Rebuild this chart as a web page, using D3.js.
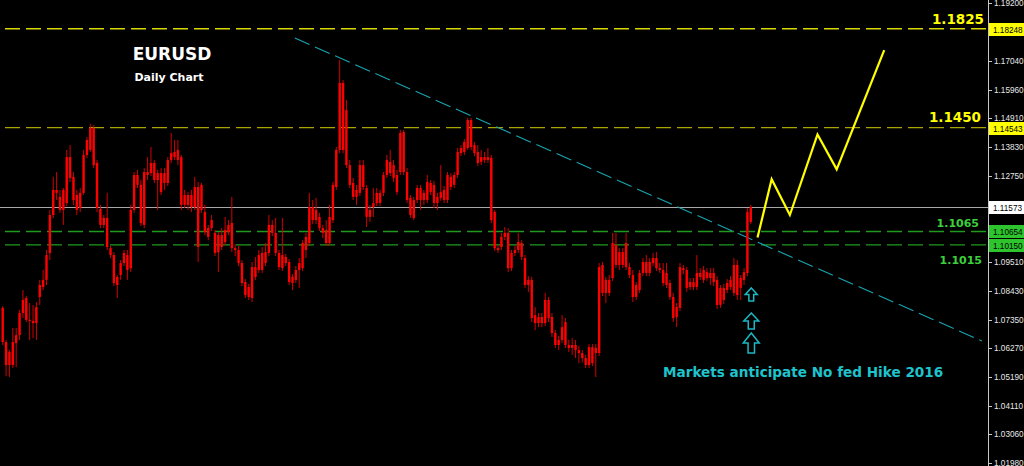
<!DOCTYPE html>
<html>
<head>
<meta charset="utf-8">
<title>EURUSD Daily Chart</title>
<script src="https://d3js.org/d3.v7.min.js"></script>
<style>
  html, body { margin: 0; padding: 0; background: #000; }
  svg { display: block; }
</style>
</head>
<body>
<svg width="1024" height="466" id="mainSvg"></svg>
<script>
// daily bars: [open, high, low, close]
const ohlc = [
  [1.0779,1.0786,1.0640,1.0651],[1.0651,1.0659,1.0524,1.0565],[1.0565,1.0621,1.0520,1.0614],[1.0565,1.0704,1.0554,1.0651],
  [1.0647,1.0704,1.0557,1.0677],[1.0677,1.0771,1.0659,1.0760],[1.0760,1.0846,1.0741,1.0809],[1.0816,1.0824,1.0726,1.0734],
  [1.0730,1.0797,1.0659,1.0734],[1.0730,1.0790,1.0666,1.0722],[1.0722,1.0801,1.0659,1.0782],[1.0820,1.0884,1.0790,1.0865],
  [1.0857,1.0921,1.0846,1.0884],[1.0884,1.0996,1.0865,1.0977],[1.0985,1.1146,1.0958,1.1127],[1.1127,1.1270,1.1116,1.1221],
  [1.1221,1.1288,1.1183,1.1210],[1.1195,1.1221,1.1135,1.1146],[1.1146,1.1228,1.1090,1.1221],[1.1172,1.1371,1.1161,1.1344],
  [1.1344,1.1389,1.1251,1.1266],[1.1270,1.1288,1.1165,1.1183],[1.1202,1.1221,1.1127,1.1146],[1.1153,1.1228,1.1138,1.1210],
  [1.1210,1.1371,1.1202,1.1352],[1.1352,1.1419,1.1341,1.1408],[1.1371,1.1468,1.1363,1.1453],[1.1453,1.1464,1.1303,1.1314],
  [1.1322,1.1333,1.1138,1.1153],[1.1150,1.1165,1.1078,1.1090],[1.1090,1.1127,1.1078,1.1116],[1.1116,1.1210,1.0996,1.1007],
  [1.1003,1.1011,1.0966,1.0977],[1.0977,1.0988,1.0861,1.0872],[1.0865,1.0902,1.0816,1.0895],[1.0902,1.0958,1.0884,1.0947],
  [1.0947,1.0996,1.0936,1.0985],[1.0977,1.0996,1.0884,1.0921],[1.0928,1.1165,1.0913,1.1146],[1.1146,1.1288,1.1135,1.1277],
  [1.1277,1.1296,1.1228,1.1240],[1.1240,1.1258,1.1086,1.1097],[1.1090,1.1303,1.1078,1.1288],[1.1288,1.1344,1.1258,1.1277],
  [1.1284,1.1382,1.1273,1.1322],[1.1322,1.1333,1.1247,1.1258],[1.1258,1.1296,1.1146,1.1284],[1.1284,1.1303,1.1202,1.1213],
  [1.1247,1.1303,1.1221,1.1284],[1.1247,1.1344,1.1236,1.1333],[1.1333,1.1434,1.1322,1.1359],[1.1344,1.1408,1.1333,1.1363],
  [1.1371,1.1408,1.1314,1.1333],[1.1344,1.1352,1.1146,1.1165],[1.1165,1.1221,1.1153,1.1202],[1.1202,1.1213,1.1146,1.1165],
  [1.1157,1.1221,1.1138,1.1202],[1.1157,1.1270,1.1146,1.1232],[1.1232,1.1251,1.0951,1.1007],[1.1240,1.1247,1.1135,1.1146],
  [1.1138,1.1165,1.1052,1.1063],[1.1078,1.1090,1.1033,1.1045],[1.1078,1.1127,1.1067,1.1108],[1.1060,1.1071,1.0973,1.0985],
  [1.0988,1.1063,1.0913,1.1052],[1.1052,1.1078,1.0996,1.1007],[1.1026,1.1120,1.1015,1.1071],[1.1063,1.1108,1.1052,1.1090],
  [1.1097,1.1195,1.0988,1.1003],[1.1003,1.1018,1.0973,1.0996],[1.0996,1.1011,1.0936,1.0947],[1.0947,1.0958,1.0861,1.0872],
  [1.0876,1.0887,1.0816,1.0827],[1.0820,1.0869,1.0809,1.0857],[1.0816,1.0951,1.0801,1.0932],[1.0932,1.0970,1.0884,1.0895],
  [1.0921,1.0996,1.0910,1.0977],[1.0985,1.1007,1.0910,1.0921],[1.0947,1.1022,1.0936,1.0988],[1.0985,1.1127,1.0973,1.1090],
  [1.1090,1.1108,1.1048,1.1060],[1.1060,1.1116,1.0973,1.0985],[1.0985,1.0996,1.0921,1.0932],[1.0928,1.1116,1.0917,1.0977],
  [1.0970,1.0981,1.0936,1.0947],[1.0951,1.0962,1.0865,1.0876],[1.0872,1.0906,1.0846,1.0895],[1.0884,1.0936,1.0872,1.0921],
  [1.0921,1.0966,1.0854,1.0947],[1.0928,1.1033,1.0917,1.1022],[1.0996,1.1060,1.0966,1.1045],[1.1022,1.1210,1.1011,1.1157],
  [1.1157,1.1183,1.1093,1.1108],[1.1108,1.1191,1.1093,1.1146],[1.1120,1.1135,1.1067,1.1078],[1.1078,1.1090,1.1041,1.1060],
  [1.1071,1.1108,1.1011,1.1022],[1.1022,1.1165,1.1011,1.1120],[1.1108,1.1251,1.1097,1.1240],[1.1232,1.1382,1.1221,1.1371],
  [1.1371,1.1708,1.1359,1.1622],[1.1622,1.1633,1.1359,1.1371],[1.1520,1.1558,1.1303,1.1314],[1.1314,1.1333,1.1228,1.1240],
  [1.1247,1.1266,1.1183,1.1195],[1.1195,1.1240,1.1165,1.1221],[1.1210,1.1333,1.1198,1.1314],[1.1314,1.1333,1.1221,1.1232],
  [1.1228,1.1240,1.1082,1.1120],[1.1120,1.1165,1.1101,1.1146],[1.1157,1.1228,1.1120,1.1172],[1.1172,1.1228,1.1161,1.1210],
  [1.1210,1.1221,1.1161,1.1172],[1.1210,1.1288,1.1198,1.1277],[1.1277,1.1352,1.1266,1.1333],[1.1326,1.1371,1.1273,1.1284],
  [1.1314,1.1333,1.1251,1.1266],[1.1277,1.1296,1.1202,1.1213],[1.1288,1.1446,1.1277,1.1434],[1.1438,1.1446,1.1277,1.1288],
  [1.1288,1.1303,1.1172,1.1183],[1.1191,1.1202,1.1116,1.1127],[1.1116,1.1195,1.1108,1.1183],[1.1183,1.1240,1.1172,1.1228],
  [1.1228,1.1240,1.1146,1.1183],[1.1183,1.1221,1.1165,1.1210],[1.1183,1.1277,1.1172,1.1251],[1.1247,1.1258,1.1202,1.1213],
  [1.1240,1.1255,1.1153,1.1172],[1.1172,1.1210,1.1146,1.1195],[1.1191,1.1314,1.1180,1.1213],[1.1221,1.1236,1.1172,1.1183],
  [1.1183,1.1288,1.1172,1.1277],[1.1270,1.1284,1.1221,1.1232],[1.1240,1.1288,1.1228,1.1277],[1.1277,1.1378,1.1266,1.1363],
  [1.1359,1.1389,1.1348,1.1378],[1.1363,1.1412,1.1352,1.1401],[1.1378,1.1491,1.1371,1.1483],[1.1483,1.1491,1.1371,1.1382],
  [1.1389,1.1401,1.1348,1.1359],[1.1363,1.1389,1.1311,1.1322],[1.1326,1.1371,1.1314,1.1344],[1.1344,1.1363,1.1322,1.1333],
  [1.1333,1.1378,1.1322,1.1344],[1.1341,1.1352,1.1097,1.1108],[1.1138,1.1146,1.0992,1.1003],[1.1003,1.1015,1.0985,1.0996],
  [1.1007,1.1060,1.0996,1.1045],[1.1045,1.1082,1.1033,1.1060],[1.1060,1.1078,1.0913,1.0928],[1.0928,1.0996,1.0917,1.0985],
  [1.0985,1.1011,1.0973,1.0996],[1.0996,1.1060,1.0985,1.1026],[1.1022,1.1033,1.0958,1.0970],[1.0966,1.0977,1.0854,1.0865],
  [1.0865,1.0898,1.0839,1.0884],[1.0884,1.0895,1.0726,1.0741],[1.0752,1.0782,1.0696,1.0722],[1.0722,1.0760,1.0707,1.0745],
  [1.0745,1.0760,1.0707,1.0722],[1.0722,1.0835,1.0711,1.0809],[1.0809,1.0820,1.0726,1.0741],[1.0745,1.0760,1.0670,1.0685],
  [1.0685,1.0696,1.0629,1.0640],[1.0640,1.0674,1.0621,1.0659],[1.0659,1.0752,1.0647,1.0707],[1.0726,1.0741,1.0629,1.0640],
  [1.0640,1.0659,1.0614,1.0629],[1.0629,1.0666,1.0603,1.0640],[1.0640,1.0659,1.0591,1.0621],[1.0621,1.0636,1.0572,1.0610],
  [1.0610,1.0621,1.0576,1.0591],[1.0591,1.0603,1.0554,1.0565],[1.0565,1.0644,1.0554,1.0632],[1.0632,1.0644,1.0561,1.0572],
  [1.0610,1.0644,1.0520,1.0629],[1.0610,1.0947,1.0599,1.0932],[1.0940,1.0951,1.0824,1.0835],[1.0835,1.0895,1.0797,1.0884],
  [1.0884,1.0902,1.0824,1.0835],[1.0891,1.1060,1.0880,1.1022],[1.1015,1.1060,1.0928,1.0940],[1.0940,1.1003,1.0921,1.0988],
  [1.0988,1.1003,1.0928,1.0940],[1.1022,1.1060,1.0921,1.0932],[1.0932,1.0947,1.0891,1.0902],[1.0902,1.0921,1.0801,1.0820],
  [1.0820,1.0876,1.0809,1.0865],[1.0846,1.0921,1.0835,1.0910],[1.0910,1.0966,1.0898,1.0951],[1.0951,1.0977,1.0898,1.0910],
  [1.0910,1.0966,1.0898,1.0951],[1.0947,1.0985,1.0936,1.0966],[1.0966,1.0988,1.0917,1.0928],[1.0928,1.0947,1.0910,1.0921],
  [1.0921,1.0947,1.0861,1.0872],[1.0865,1.0947,1.0854,1.0910],[1.0872,1.0884,1.0809,1.0820],[1.0820,1.0835,1.0726,1.0741],
  [1.0745,1.0797,1.0707,1.0782],[1.0779,1.0947,1.0767,1.0932],[1.0928,1.0940,1.0906,1.0921],[1.0921,1.0932,1.0839,1.0854],
  [1.0857,1.0891,1.0846,1.0876],[1.0876,1.0891,1.0846,1.0857],[1.0857,1.0977,1.0846,1.0910],[1.0910,1.0928,1.0884,1.0895],
  [1.0884,1.0936,1.0872,1.0921],[1.0913,1.0928,1.0880,1.0891],[1.0891,1.0928,1.0865,1.0910],[1.0910,1.0928,1.0861,1.0876],
  [1.0884,1.0898,1.0775,1.0790],[1.0790,1.0865,1.0779,1.0854],[1.0854,1.0869,1.0794,1.0809],[1.0846,1.0887,1.0835,1.0872],
  [1.0857,1.0898,1.0846,1.0884],[1.0835,1.0966,1.0824,1.0940],[1.0940,1.0958,1.0809,1.0827],[1.0854,1.0902,1.0809,1.0891],
  [1.0884,1.0928,1.0865,1.0913],[1.0910,1.1153,1.0898,1.1138],[1.1101,1.1165,1.1093,1.1157]
];

// right price scale
const priceTicks = [1.19200, 1.18120, 1.17040, 1.15960, 1.14910, 1.13830, 1.12750, 1.11670,
                    1.10590, 1.09510, 1.08430, 1.07350, 1.06270, 1.05190, 1.04110, 1.03060, 1.01980];
const priceMin = 1.01867, priceMax = 1.19326;
const lastPrice = 1.11573;

// horizontal levels
const levelPrices = [1.18248, 1.14543, 1.10654, 1.10150];
const levelNames = ["1.1825", "1.1450", "1.1065", "1.1015"];

// trend line (bar index, price)
const trendIdx = [86.7, 290.6];
const trendPrice = [1.1790, 1.0655];

// projected path
const projIdx = [224.0, 228.2, 233.6, 241.8, 247.5, 261.6];
const projPrice = [1.1043, 1.1261, 1.1127, 1.1429, 1.1298, 1.1745];

// hollow arrows under the last bar
const arrowTops = [1.0854, 1.0760, 1.0685];

const svg = d3.select('#mainSvg');
const width = +svg.attr('width');
const height = +svg.attr('height');
const axisX = 988;

svg.append('rect').attr('width', width).attr('height', height).attr('fill', '#000');

const x = d3.scaleLinear().domain([-0.8, 292.4]).range([0, axisX]);
const y = d3.scaleLinear().domain([priceMin, priceMax]).range([height, 0]);

svg.append('defs').append('clipPath').attr('id', 'plotClip')
  .append('rect').attr('x', 0).attr('y', 0).attr('width', axisX).attr('height', height);

const plot = svg.append('g').attr('clip-path', 'url(#plotClip)');

// level lines
const levelStyle = [
  { stroke: '#d8d800', width: 1.3, fill: '#ffff00', size: 13.5, dy: -5, xEnd: 984 },
  { stroke: '#a8a400', width: 1.3, fill: '#ffff00', size: 13.5, dy: -6, xEnd: 981 },
  { stroke: '#1f9a1f', width: 1.4, fill: '#3ccf3c', size: 11, dy: -4, xEnd: 979 },
  { stroke: '#1f9a1f', width: 1.4, fill: '#3ccf3c', size: 11, dy: 19, xEnd: 982 }
];

plot.selectAll('.level').data(levelPrices).join('line')
  .attr('class', 'level')
  .attr('x1', 5).attr('x2', axisX)
  .attr('y1', d => y(d)).attr('y2', d => y(d))
  .attr('stroke', (d, i) => levelStyle[i].stroke)
  .attr('stroke-width', (d, i) => levelStyle[i].width)
  .attr('stroke-dasharray', '15,6');

// current price line
plot.append('line')
  .attr('x1', 0).attr('x2', axisX)
  .attr('y1', Math.round(y(lastPrice)) + 0.5).attr('y2', Math.round(y(lastPrice)) + 0.5)
  .attr('stroke', '#a8a8a8').attr('stroke-width', 1);

// trend line
plot.append('line')
  .attr('x1', x(trendIdx[0])).attr('y1', y(trendPrice[0]))
  .attr('x2', x(trendIdx[1])).attr('y2', y(trendPrice[1]))
  .attr('stroke', '#17a6b2').attr('stroke-width', 1.1)
  .attr('stroke-dasharray', '16,6');

// candles
const bars = plot.append('g');
bars.selectAll('.wick').data(ohlc).join('line')
  .attr('class', 'wick')
  .attr('x1', (d, i) => x(i)).attr('x2', (d, i) => x(i))
  .attr('y1', d => y(d[1])).attr('y2', d => y(d[2]))
  .attr('stroke', '#d00000').attr('stroke-width', 1);

bars.selectAll('.body').data(ohlc).join('rect')
  .attr('class', 'body')
  .attr('x', (d, i) => x(i) - 1.2)
  .attr('width', 2.4)
  .attr('y', d => y(Math.max(d[0], d[3])))
  .attr('height', d => Math.max(1, Math.abs(y(d[0]) - y(d[3]))))
  .attr('fill', '#ff0000');

// projection
plot.append('path')
  .datum(projIdx.map((d, i) => [d, projPrice[i]]))
  .attr('d', d3.line().x(d => x(d[0])).y(d => y(d[1])))
  .attr('fill', 'none')
  .attr('stroke', '#ffff00')
  .attr('stroke-width', 2.2)
  .attr('stroke-linejoin', 'miter');

// arrows
const arrowSize = [[12, 13], [15, 16], [16, 20]];
const lastIdx = ohlc.length - 1;
plot.selectAll('.arrow').data(arrowTops).join('path')
  .attr('class', 'arrow')
  .attr('d', (d, i) => {
    const cx = x(lastIdx) + 0.5, top = y(d);
    const w = arrowSize[i][0], h = arrowSize[i][1];
    const p = d3.path();
    p.moveTo(cx, top);
    p.lineTo(cx + w / 2, top + h * 0.5);
    p.lineTo(cx + w * 0.2, top + h * 0.5);
    p.lineTo(cx + w * 0.2, top + h);
    p.lineTo(cx - w * 0.2, top + h);
    p.lineTo(cx - w * 0.2, top + h * 0.5);
    p.lineTo(cx - w / 2, top + h * 0.5);
    p.closePath();
    return p.toString();
  })
  .attr('fill', 'none')
  .attr('stroke', '#1ab8c4')
  .attr('stroke-width', 1.5)
  .attr('stroke-linejoin', 'miter');

// level captions
svg.selectAll('.levelText').data(levelNames).join('text')
  .attr('class', 'levelText')
  .attr('x', (d, i) => levelStyle[i].xEnd)
  .attr('y', (d, i) => y(levelPrices[i]) + levelStyle[i].dy)
  .attr('text-anchor', 'end')
  .attr('font-family', '"DejaVu Sans", sans-serif')
  .attr('font-weight', 'bold')
  .attr('font-size', (d, i) => levelStyle[i].size)
  .attr('fill', (d, i) => levelStyle[i].fill)
  .text(d => d);

// titles
svg.append('text')
  .attr('x', 172).attr('y', 60)
  .attr('text-anchor', 'middle')
  .attr('font-family', '"DejaVu Sans", sans-serif')
  .attr('font-weight', 'bold').attr('font-size', 17)
  .attr('fill', '#ffffff')
  .text('EURUSD');

svg.append('text')
  .attr('x', 169).attr('y', 81)
  .attr('text-anchor', 'middle')
  .attr('font-family', '"DejaVu Sans", sans-serif')
  .attr('font-weight', 'bold').attr('font-size', 11)
  .attr('fill', '#ffffff')
  .text('Daily Chart');

svg.append('text')
  .attr('x', 663).attr('y', 377)
  .attr('font-family', '"DejaVu Sans", sans-serif')
  .attr('font-weight', 'bold').attr('font-size', 13.6)
  .attr('fill', '#1ec3cc')
  .text('Markets anticipate No fed Hike 2016');

// right axis
const axisG = svg.append('g').attr('transform', `translate(${axisX},0)`);
axisG.append('line')
  .attr('x1', 0.5).attr('x2', 0.5).attr('y1', 0).attr('y2', height)
  .attr('stroke', '#c8c8c8');

axisG.selectAll('.tick').data(priceTicks).join('line')
  .attr('class', 'tick')
  .attr('x1', 0).attr('x2', 4)
  .attr('y1', d => Math.round(y(d)) + 0.5).attr('y2', d => Math.round(y(d)) + 0.5)
  .attr('stroke', '#c8c8c8');

// price markers on the axis
const markerPrices = [levelPrices[0], levelPrices[1], lastPrice, levelPrices[2], levelPrices[3]];
const markerFill = ['#ffff00', '#ffff00', '#ffffff', '#2ec42e', '#2ec42e'];

// tick labels hidden behind a marker are left out, as on the terminal
const visibleTicks = priceTicks.filter(t =>
  markerPrices.every(m => Math.abs(y(t) - y(m)) > 9));

axisG.selectAll('.tickLabel').data(visibleTicks).join('text')
  .attr('class', 'tickLabel')
  .attr('x', 6)
  .attr('y', d => y(d) + 3)
  .attr('font-family', '"Liberation Sans", Arial, sans-serif')
  .attr('font-size', 8.2)
  .attr('fill', '#e8e8e8')
  .text(d => d3.format('.5f')(d));

const markers = axisG.selectAll('.marker').data(markerPrices).join('g')
  .attr('class', 'marker')
  .attr('transform', d => `translate(1,${Math.round(y(d)) - 6})`);
markers.append('rect')
  .attr('width', 35).attr('height', 13)
  .attr('fill', (d, i) => markerFill[i]);
markers.append('text')
  .attr('x', 4).attr('y', 9.5)
  .attr('font-family', '"Liberation Sans", Arial, sans-serif')
  .attr('font-size', 8.2)
  .attr('fill', '#000')
  .text(d => d3.format('.5f')(d));
</script>
</body>
</html>
